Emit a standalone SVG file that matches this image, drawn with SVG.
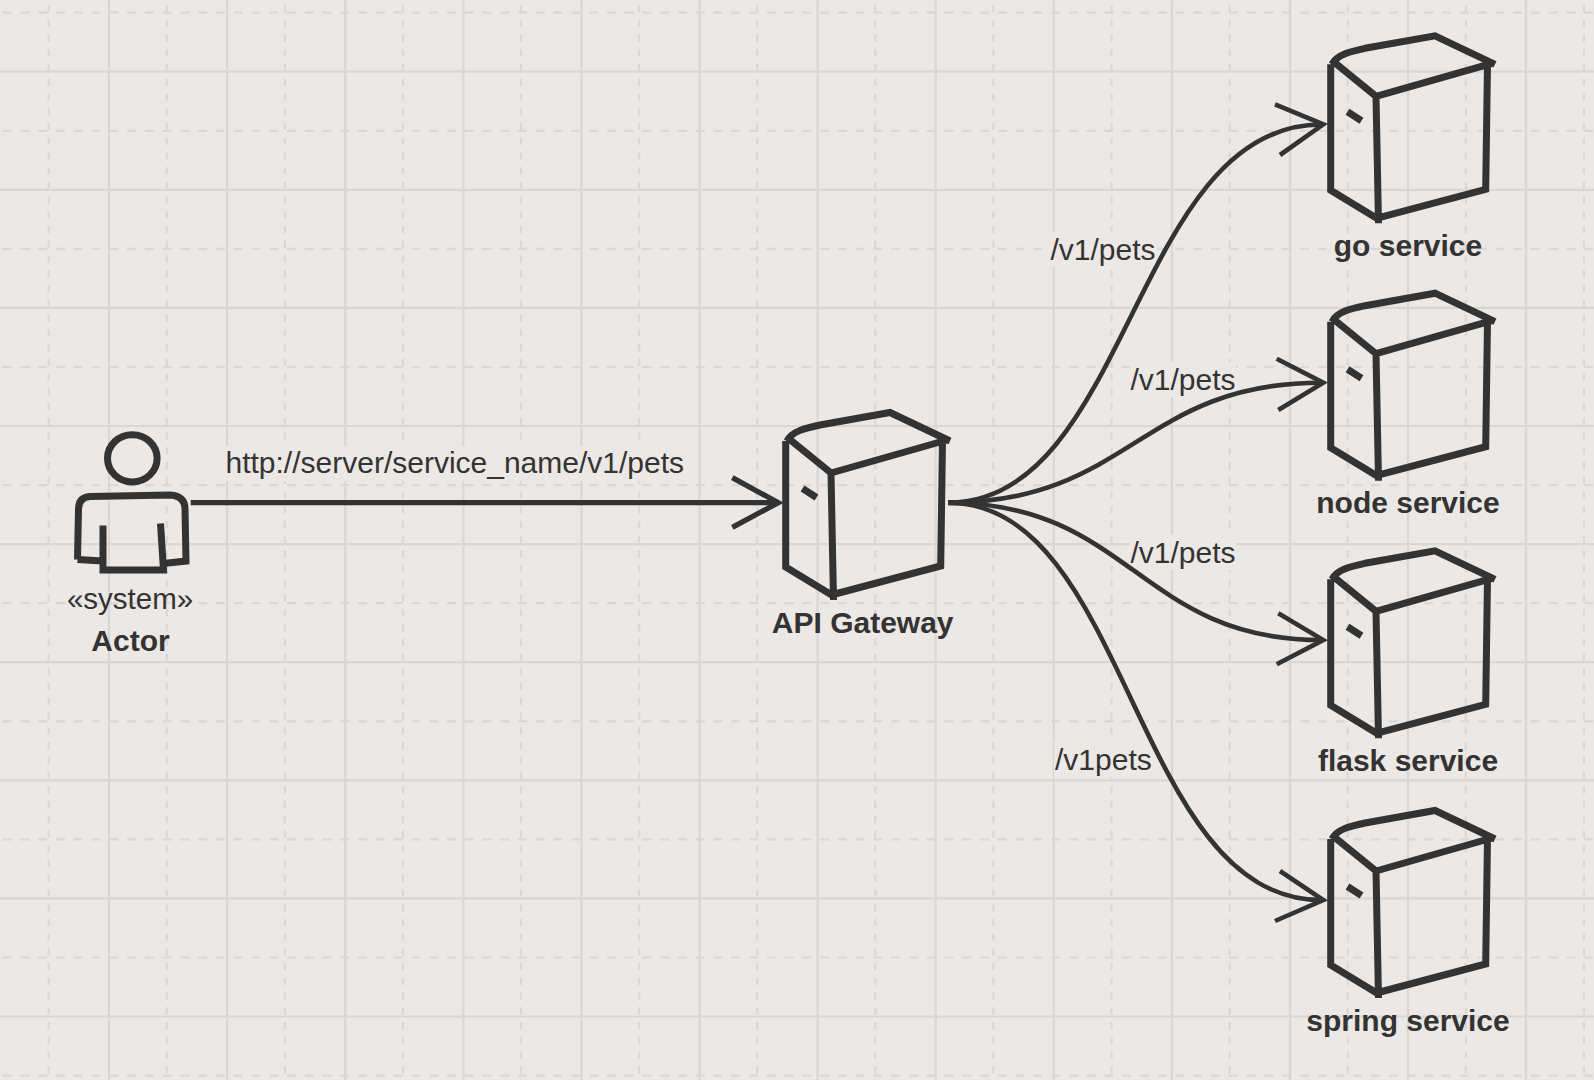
<svg xmlns="http://www.w3.org/2000/svg" width="1594" height="1080" viewBox="0 0 1594 1080">
<style>
.solid{fill:none;stroke:#d8d7d6;stroke-width:2.2}
.dash-h{fill:none;stroke:#d9d8d6;stroke-width:2.2;stroke-dasharray:9 8.77}
.dash-v{fill:none;stroke:#d9d8d6;stroke-width:2.2;stroke-dasharray:7.2 7.54}
.ink{fill:none;stroke:#333;stroke-width:7;stroke-linejoin:miter;stroke-linecap:butt}
.edge{fill:none;stroke:#333;stroke-width:4.6}
.main{stroke-width:5.3}
.bg{fill:#ebe8e5}
text{font-family:"Liberation Sans",Arial,sans-serif;font-size:30px;fill:#333}
.b{font-weight:700;text-anchor:middle}
.c{text-anchor:middle}
</style>
<defs>
<g id="box">
<path class="ink" d="M785.7 441V567L835 597M787 441C792 431 806 428 820 425L890 412.5L950 441M788 438L831 473L947 440M942.5 440L940.7 566L835 594M831 473L833.5 600M802.5 488.5L816.5 497.5"/>
</g>
</defs>
<rect class="bg" width="1594" height="1080"/>
<g id="grid">
<path class="dash-h" d="M2.7 12.7H1594M2.7 130.8H1594M2.7 248.9H1594M2.7 367H1594M2.7 485.1H1594M2.7 603.2H1594M2.7 721.3H1594M2.7 839.4H1594M2.7 957.5H1594M2.7 1075.6H1594"/>
<path class="dash-v" d="M48.7 5V1080M166.8 5V1080M284.9 5V1080M403 5V1080M521 5V1080M639.1 5V1080M757.2 5V1080M875.3 5V1080M993.4 5V1080M1111.5 5V1080M1229.6 5V1080M1347.7 5V1080M1465.8 5V1080M1583.9 5V1080"/>
<path class="solid" d="M0 71.7H1594M0 189.8H1594M0 307.9H1594M0 426H1594M0 544.1H1594M0 662.2H1594M0 780.3H1594M0 898.4H1594M0 1016.5H1594"/>
<path class="solid" d="M109 0V1080M227.1 0V1080M345.2 0V1080M463.3 0V1080M581.4 0V1080M699.5 0V1080M817.6 0V1080M935.7 0V1080M1053.8 0V1080M1171.9 0V1080M1290 0V1080M1408 0V1080M1526 0V1080"/>
</g>
<g id="edge-labels">
<rect class="bg" x="225" y="446" width="458" height="35"/>
<rect class="bg" x="1050" y="232" width="106" height="35"/>
<rect class="bg" x="1130" y="362" width="106" height="35"/>
<rect class="bg" x="1130" y="535" width="106" height="35"/>
<rect class="bg" x="1054" y="742" width="98" height="35"/>
<text x="225.5" y="472.7">http://server/service_name/v1/pets</text>
<text x="1050.5" y="260">/v1/pets</text>
<text x="1130.5" y="390.3">/v1/pets</text>
<text x="1130.5" y="562.7">/v1/pets</text>
<text x="1055" y="770">/v1pets</text>
</g>
<g id="connectors">
<path class="edge main" d="M190.7 502.7H776"/>
<path class="edge main" d="M732.3 477.7L778.3 502.7L732.3 527.3"/>
<path class="edge main" d="M948 502.7H975"/>
<path class="edge" d="M948 502.7C1130 502.7 1133 125 1321 124.5"/>
<path class="edge" d="M1275 104.3L1323.3 124.3L1280 155"/>
<path class="edge" d="M948 502.7C1130 502.7 1140 383 1321 382.7"/>
<path class="edge" d="M1276.7 358.7L1323.3 382.7L1278.3 410"/>
<path class="edge" d="M948 502.7C1130 502.7 1140 640 1321 640"/>
<path class="edge" d="M1278.3 613.3L1323.3 640L1276.7 664.3"/>
<path class="edge" d="M948 502.7C1130 502.7 1133 900 1321 900"/>
<path class="edge" d="M1280 871L1323.3 900L1275 921"/>
</g>
<g id="actor">
<ellipse class="ink" cx="132.3" cy="458.3" rx="24.8" ry="23.6"/>
<path class="ink" d="M77.5 559.5L78.5 509Q78.5 497.5 90 496.5L170 495Q185 496 185 509L186 561L163.5 563.5M77.5 559.5L103 561"/>
<path class="ink" d="M103 525.5V570H163.5L160.5 523.5"/>
<text class="c" x="130" y="608.7" style="font-size:29.5px">«system»</text>
<text class="b" x="130.5" y="650.7">Actor</text>
</g>
<g id="api-gateway">
<use href="#box"/>
<text class="b" x="862.7" y="633.3">API Gateway</text>
</g>
<g id="go-service">
<use href="#box" x="545" y="-376.7"/>
<text class="b" x="1408" y="255.7">go service</text>
</g>
<g id="node-service">
<use href="#box" x="545" y="-119.3"/>
<text class="b" x="1408" y="513.3">node service</text>
</g>
<g id="flask-service">
<use href="#box" x="545" y="138.3"/>
<text class="b" x="1408" y="771">flask service</text>
</g>
<g id="spring-service">
<use href="#box" x="545" y="398"/>
<text class="b" x="1408" y="1030.7">spring service</text>
</g>
</svg>
